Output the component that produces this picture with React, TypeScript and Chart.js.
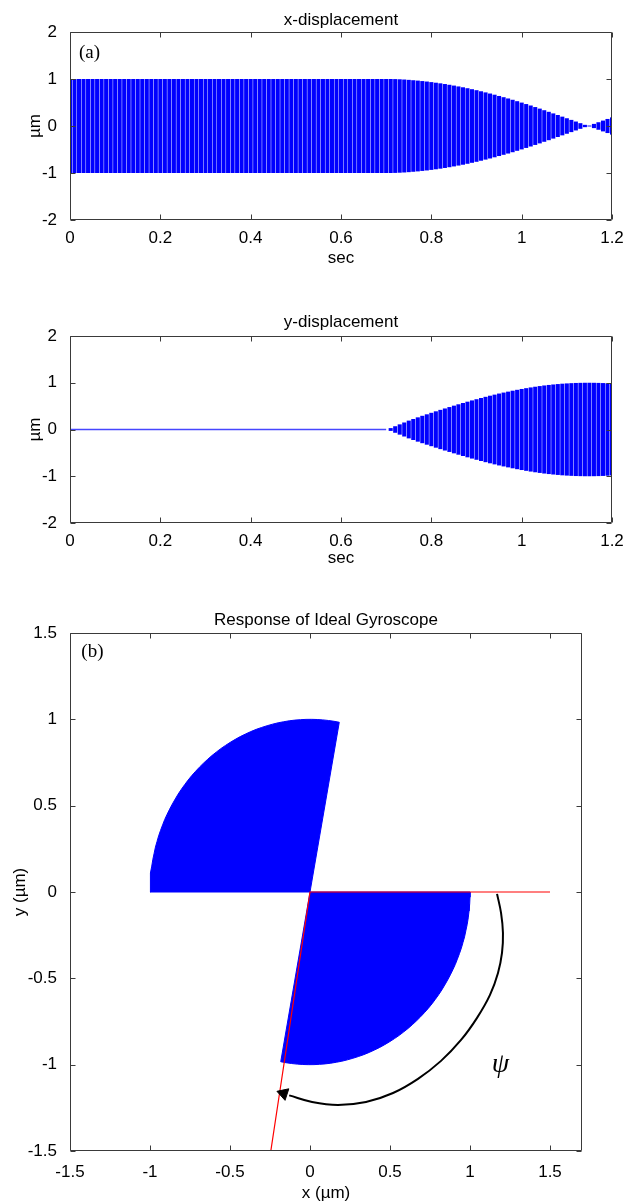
import React, { useEffect, useRef } from 'react';
import { Chart, registerables } from 'chart.js';

Chart.register(...registerables);

// ---------------- DATA ----------------
// sample times (s)
const timeValues = [
  0, 0.01, 0.02, 0.03, 0.04, 0.05, 0.06, 0.07, 0.08, 0.09,
  0.1, 0.11, 0.12, 0.13, 0.14, 0.15, 0.16, 0.17, 0.18, 0.19,
  0.2, 0.21, 0.22, 0.23, 0.24, 0.25, 0.26, 0.27, 0.28, 0.29,
  0.3, 0.31, 0.32, 0.33, 0.34, 0.35, 0.36, 0.37, 0.38, 0.39,
  0.4, 0.41, 0.42, 0.43, 0.44, 0.45, 0.46, 0.47, 0.48, 0.49,
  0.5, 0.51, 0.52, 0.53, 0.54, 0.55, 0.56, 0.57, 0.58, 0.59,
  0.6, 0.61, 0.62, 0.63, 0.64, 0.65, 0.66, 0.67, 0.68, 0.69,
  0.7, 0.71, 0.72, 0.73, 0.74, 0.75, 0.76, 0.77, 0.78, 0.79,
  0.8, 0.81, 0.82, 0.83, 0.84, 0.85, 0.86, 0.87, 0.88, 0.89,
  0.9, 0.91, 0.92, 0.93, 0.94, 0.95, 0.96, 0.97, 0.98, 0.99,
  1.0, 1.01, 1.02, 1.03, 1.04, 1.05, 1.06, 1.07, 1.08, 1.09,
  1.1, 1.11, 1.12, 1.13, 1.14, 1.15, 1.16, 1.17, 1.18, 1.19,
  1.2,
];

// x-displacement amplitude per cycle (µm, signed: phase flips after ~1.15 s)
const xAmplitude = [
  1, 1, 1, 1, 1, 1, 1, 1, 1, 1,
  1, 1, 1, 1, 1, 1, 1, 1, 1, 1,
  1, 1, 1, 1, 1, 1, 1, 1, 1, 1,
  1, 1, 1, 1, 1, 1, 1, 1, 1, 1,
  1, 1, 1, 1, 1, 1, 1, 1, 1, 1,
  1, 1, 1, 1, 1, 1, 1, 1, 1, 1,
  1, 1, 1, 1, 1, 1, 1, 1, 1, 1,
  1, 1, 0.998, 0.994, 0.989, 0.982, 0.974, 0.966, 0.956, 0.946,
  0.934, 0.921, 0.908, 0.893, 0.877, 0.86, 0.842, 0.824, 0.804, 0.783,
  0.762, 0.739, 0.715, 0.691, 0.666, 0.639, 0.613, 0.586, 0.558, 0.528,
  0.498, 0.467, 0.436, 0.403, 0.37, 0.336, 0.302, 0.268, 0.234, 0.199,
  0.165, 0.13, 0.095, 0.06, 0.025, -0.01, -0.045, -0.08, -0.115, -0.15,
  -0.183,
];

// y-displacement amplitude per cycle (µm)
const yAmplitude = [
  0, 0, 0, 0, 0, 0, 0, 0, 0, 0,
  0, 0, 0, 0, 0, 0, 0, 0, 0, 0,
  0, 0, 0, 0, 0, 0, 0, 0, 0, 0,
  0, 0, 0, 0, 0, 0, 0, 0, 0, 0,
  0, 0, 0, 0, 0, 0, 0, 0, 0, 0,
  0, 0, 0, 0, 0, 0, 0, 0, 0, 0,
  0, 0, 0, 0, 0, 0, 0, 0, 0, 0,
  0, 0.03, 0.07, 0.11, 0.15, 0.19, 0.225, 0.26, 0.293, 0.325,
  0.357, 0.389, 0.42, 0.45, 0.48, 0.51, 0.539, 0.567, 0.595, 0.622,
  0.648, 0.674, 0.699, 0.723, 0.746, 0.769, 0.79, 0.81, 0.83, 0.849,
  0.867, 0.884, 0.9, 0.915, 0.929, 0.942, 0.953, 0.963, 0.972, 0.98,
  0.986, 0.9915, 0.9955, 0.998, 0.9997, 1, 0.999, 0.9968, 0.9934, 0.9887,
  0.983,
];

// time at which the rotation (sweep) of the vibration pattern starts
const sweepStart = 0.7;

// axis ranges / tick steps
const timeRange = [0, 1.2];
const timeStep = 0.2;
const dispRange = [-2, 2];
const dispStep = 1;
const gyroXRange = [-1.5, 1.7];
const gyroYRange = [-1.5, 1.5];
const gyroStep = 0.5;

// red reference lines in panel (b)
const refLineX = [1.5, 0, -0.245];
const refLineY = [0, 0, -1.5];

// curved ψ arrow in panel (b)
const psiArcX = [1.169, 1.194, 1.206, 1.2, 1.175, 1.125, 1.044, 0.944, 0.819, 0.675, 0.519, 0.35, 0.175, 0.013, -0.13];
const psiArcY = [-0.011, -0.121, -0.237, -0.353, -0.469, -0.596, -0.729, -0.857, -0.978, -1.082, -1.164, -1.216, -1.233, -1.216, -1.178];
const arrowHeadX = [-0.165];
const arrowHeadY = [-1.167];

// text labels
const panelALabel = { x: 0.043, y: 1.55, text: '(a)' };
const panelBLabel = { x: -1.36, y: 1.39, text: '(b)' };
const psiLabel = { x: 1.19, y: -1.0, text: 'ψ' };

// ---------------- STYLE ----------------
const SANS = "'Liberation Sans', Arial, Helvetica, sans-serif";
const SERIF = "'Liberation Serif', 'Times New Roman', serif";
const BLUE = '#0000ff';
const AXIS_COLOR = '#3a3a3a';

const fmt = (v: any) => String(Math.round(Number(v) * 100) / 100);

const boxPlugin = {
  id: 'matlabBox',
  afterDraw(chart: any) {
    const { ctx, chartArea } = chart;
    const xs = chart.scales.x;
    const ys = chart.scales.y;
    const l = Math.round(chartArea.left) + 0.5;
    const r = Math.round(chartArea.right) - 0.5;
    const t = Math.round(chartArea.top) + 0.5;
    const b = Math.round(chartArea.bottom) - 0.5;
    const len = 5;
    ctx.save();
    ctx.strokeStyle = AXIS_COLOR;
    ctx.lineWidth = 1;
    ctx.beginPath();
    ctx.rect(l, t, r - l, b - t);
    xs.ticks.forEach((tk: any) => {
      const p = Math.round(xs.getPixelForValue(tk.value)) + 0.5;
      ctx.moveTo(p, b);
      ctx.lineTo(p, b - len);
      ctx.moveTo(p, t);
      ctx.lineTo(p, t + len);
    });
    ys.ticks.forEach((tk: any) => {
      const p = Math.round(ys.getPixelForValue(tk.value)) + 0.5;
      ctx.moveTo(l, p);
      ctx.lineTo(l + len, p);
      ctx.moveTo(r, p);
      ctx.lineTo(r - len, p);
    });
    ctx.stroke();
    ctx.restore();
  },
};

const textMarksPlugin = {
  id: 'textMarks',
  afterDatasetsDraw(chart: any, _args: any, opts: any) {
    const marks = (opts && opts.marks) || [];
    const { ctx } = chart;
    const xs = chart.scales.x;
    const ys = chart.scales.y;
    ctx.save();
    marks.forEach((m: any) => {
      ctx.font = m.font;
      ctx.fillStyle = m.color || '#000';
      ctx.textAlign = 'center';
      ctx.textBaseline = 'middle';
      ctx.fillText(m.text, xs.getPixelForValue(m.x), ys.getPixelForValue(m.y));
    });
    ctx.restore();
  },
};

const tickFont = { family: SANS, size: 17 };
const titleFont = { family: SANS, size: 17, weight: 'normal' as const };

function displacementConfig(
  title: string,
  amplitude: number[],
  withBaseline: boolean,
  marks: any[],
  titlePad: { top: number; bottom: number },
  xAxisHeight: number,
): any {
  const bars = timeValues.map((t, i) => ({
    x: t,
    y: [-Math.abs(amplitude[i]), Math.abs(amplitude[i])],
  }));
  const datasets: any[] = [
    {
      type: 'bar',
      data: bars,
      backgroundColor: BLUE,
      borderWidth: 0,
      barPercentage: 0.9,
      categoryPercentage: 1,
      grouped: false,
    },
  ];
  if (withBaseline) {
    datasets.push({
      type: 'line',
      data: timeValues
        .filter((t, i) => amplitude[i] === 0 && t <= sweepStart)
        .map((t) => ({ x: t, y: 0 })),
      borderColor: '#4646ff',
      borderWidth: 1.3,
      pointRadius: 0,
      fill: false,
    });
  }
  return {
    type: 'bar',
    data: { datasets },
    plugins: [boxPlugin, textMarksPlugin],
    options: {
      animation: false,
      responsive: false,
      events: [],
      layout: { padding: { left: 0, right: 12, top: 0, bottom: 0 } },
      plugins: {
        legend: { display: false },
        tooltip: { enabled: false },
        title: {
          display: true,
          text: title,
          fullSize: false,
          color: '#000',
          font: titleFont,
          padding: titlePad,
        },
        textMarks: { marks },
      },
      scales: {
        x: {
          type: 'linear',
          min: timeRange[0],
          max: timeRange[1],
          offset: false,
          grid: { display: false },
          border: { display: false },
          ticks: { stepSize: timeStep, padding: 0, color: '#000', font: tickFont, maxRotation: 0, autoSkip: false, callback: fmt },
          title: { display: true, text: 'sec', color: '#000', font: tickFont, padding: { top: 0, bottom: 1.8 } },
          afterFit: (s: any) => {
            s.height = xAxisHeight;
            s.paddingLeft = 0;
            s.paddingRight = 0;
          },
        },
        y: {
          min: dispRange[0],
          max: dispRange[1],
          grid: { display: false },
          border: { display: false },
          ticks: { stepSize: dispStep, padding: 5, color: '#000', font: tickFont, callback: fmt },
          title: { display: true, text: 'µm', color: '#000', font: tickFont, padding: { top: 24.8, bottom: 0 } },
          afterFit: (s: any) => {
            s.width = 70;
            s.paddingTop = 0;
            s.paddingBottom = 0;
          },
        },
      },
    },
  };
}

function gyroConfig(): any {
  const sweepIdx = timeValues
    .map((t, i) => i)
    .filter((i) => timeValues[i] >= sweepStart);
  const lowerSector = [
    { x: 0, y: 0 },
    ...sweepIdx.map((i) => ({ x: xAmplitude[i], y: -yAmplitude[i] })),
    { x: 0, y: 0 },
  ];
  const upperSector = [
    { x: 0, y: 0 },
    ...sweepIdx.map((i) => ({ x: -xAmplitude[i], y: yAmplitude[i] })),
    { x: 0, y: 0 },
  ];
  const sectorStyle = {
    borderColor: BLUE,
    backgroundColor: BLUE,
    borderWidth: 1,
    pointRadius: 0,
    fill: 'shape',
    tension: 0,
  };
  return {
    type: 'line',
    data: {
      datasets: [
        {
          data: arrowHeadX.map((x, i) => ({ x, y: arrowHeadY[i] })),
          showLine: false,
          pointStyle: 'triangle',
          pointRadius: 7,
          pointRotation: 288,
          backgroundColor: '#000',
          borderColor: '#000',
          borderWidth: 1,
        },
        {
          data: psiArcX.map((x, i) => ({ x, y: psiArcY[i] })),
          borderColor: '#000',
          borderWidth: 2,
          pointRadius: 0,
          tension: 0.4,
          fill: false,
        },
        {
          data: refLineX.map((x, i) => ({ x, y: refLineY[i] })),
          borderColor: '#ff0000',
          borderWidth: 1.2,
          pointRadius: 0,
          tension: 0,
          fill: false,
        },
        { data: upperSector, ...sectorStyle },
        { data: lowerSector, ...sectorStyle },
      ],
    },
    plugins: [boxPlugin, textMarksPlugin],
    options: {
      animation: false,
      responsive: false,
      events: [],
      layout: { padding: { left: 0, right: 42, top: 0, bottom: 0 } },
      plugins: {
        legend: { display: false },
        tooltip: { enabled: false },
        title: {
          display: true,
          text: 'Response of Ideal Gyroscope',
          fullSize: false,
          color: '#000',
          font: titleFont,
          padding: { top: 32, bottom: 2.6 },
        },
        textMarks: {
          marks: [
            { ...panelBLabel, font: `19px ${SERIF}` },
            { ...psiLabel, font: `italic 28px ${SERIF}` },
          ],
        },
      },
      scales: {
        x: {
          type: 'linear',
          min: gyroXRange[0],
          max: gyroXRange[1],
          offset: false,
          grid: { display: false },
          border: { display: false },
          ticks: { stepSize: gyroStep, includeBounds: false, padding: 3, color: '#000', font: tickFont, maxRotation: 0, autoSkip: false, callback: fmt },
          title: { display: true, text: 'x (µm)', color: '#000', font: tickFont, padding: { top: 0, bottom: 0 } },
          afterFit: (s: any) => {
            s.height = 53;
            s.paddingLeft = 0;
            s.paddingRight = 0;
          },
        },
        y: {
          type: 'linear',
          min: gyroYRange[0],
          max: gyroYRange[1],
          grid: { display: false },
          border: { display: false },
          ticks: { stepSize: gyroStep, includeBounds: false, padding: 5, color: '#000', font: tickFont, callback: fmt },
          title: { display: true, text: 'y (µm)', color: '#000', font: tickFont, padding: { top: 9.8, bottom: 0 } },
          afterFit: (s: any) => {
            s.width = 70;
            s.paddingTop = 0;
            s.paddingBottom = 0;
          },
        },
      },
    },
  };
}

function ChartCanvas({ top, height, makeConfig }: { top: number; height: number; makeConfig: () => any }) {
  const ref = useRef<HTMLCanvasElement>(null);
  useEffect(() => {
    const chart = new Chart(ref.current as HTMLCanvasElement, makeConfig());
    return () => chart.destroy();
  }, []);
  return (
    <canvas
      ref={ref}
      width={624}
      height={height}
      style={{ position: 'absolute', left: 0, top, width: 624, height, display: 'block' }}
    />
  );
}

export default function App() {
  return (
    <div style={{ position: 'absolute', left: 0, top: 0, width: 624, height: 1204, background: '#fff', overflow: 'hidden' }}>
      <ChartCanvas
        top={0}
        height={270}
        makeConfig={() =>
          displacementConfig(
            'x-displacement',
            xAmplitude,
            false,
            [{ ...panelALabel, font: `19px ${SERIF}` }],
            { top: 9.8, bottom: 1.8 },
            50,
          )
        }
      />
      <ChartCanvas
        top={290}
        height={280}
        makeConfig={() =>
          displacementConfig('y-displacement', yAmplitude, true, [], { top: 22.5, bottom: 3.1 }, 47)
        }
      />
      <ChartCanvas top={578} height={626} makeConfig={gyroConfig} />
    </div>
  );
}
